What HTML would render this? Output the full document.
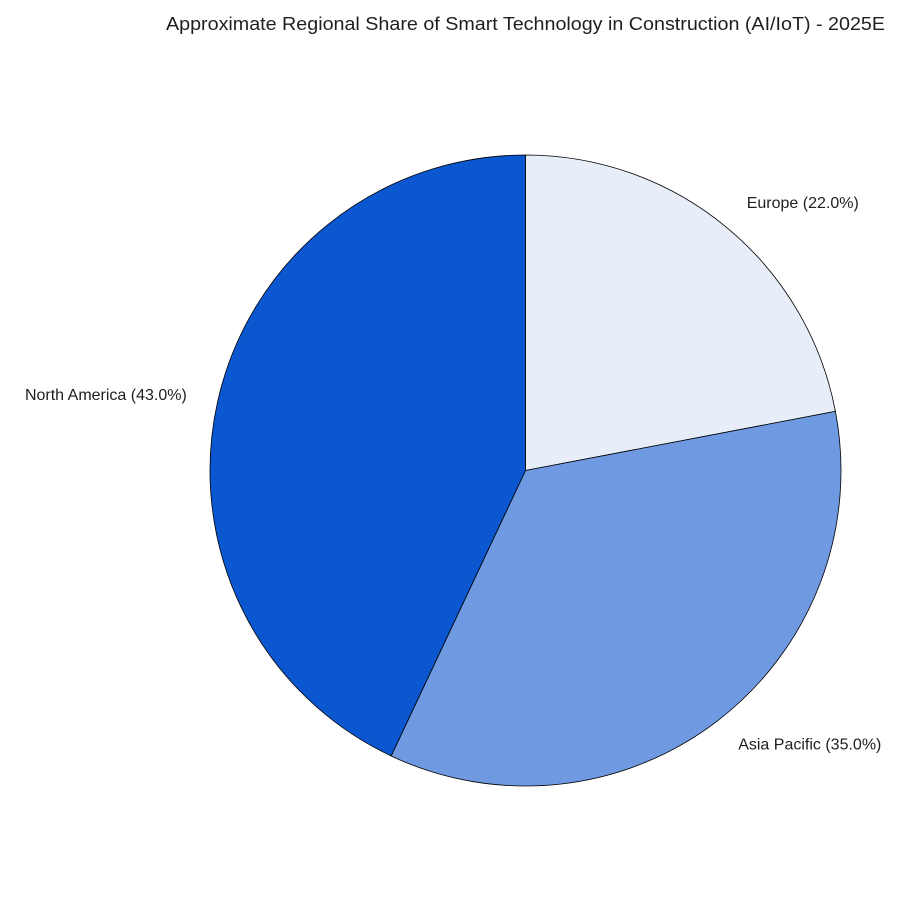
<!DOCTYPE html>
<html><head><meta charset="utf-8"><style>
html,body{margin:0;padding:0;background:#fff;}
svg text{font-family:"Liberation Sans",sans-serif;fill:#1f1f1f;}
</style></head><body>
<svg id="chart" width="900" height="900" viewBox="0 0 900 900" xmlns="http://www.w3.org/2000/svg">
<text x="525.5" y="30" text-anchor="middle" font-size="18" textLength="719" lengthAdjust="spacingAndGlyphs">Approximate Regional Share of Smart Technology in Construction (AI/IoT) - 2025E</text>
<g id="slices"></g>
<g id="labels"></g>
</svg>
<script>
const categories = ["Europe", "Asia Pacific", "North America"];
const values = [22.0, 35.0, 43.0];
const colors = ["#e8eef9", "#6f9ae2", "#0b57d0"];
const cx = 525.5, cy = 470.5, r = 315.5;
const total = values.reduce((a,b)=>a+b,0);
const ns = "http://www.w3.org/2000/svg";
const gS = document.getElementById('slices'), gL = document.getElementById('labels');
function pt(angDeg, rad){ const a = angDeg*Math.PI/180; return [cx + rad*Math.sin(a), cy - rad*Math.cos(a)]; }
let start = 0;
values.forEach((v,i)=>{
  const sweep = v/total*360, end = start+sweep;
  const [x1,y1] = pt(start,r), [x2,y2] = pt(end,r);
  const p = document.createElementNS(ns,'path');
  p.setAttribute('d',`M${cx},${cy} L${x1},${y1} A${r},${r} 0 ${sweep>180?1:0} 1 ${x2},${y2} Z`);
  p.setAttribute('fill',colors[i]); p.setAttribute('stroke','#000'); p.setAttribute('stroke-width','0.8');
  
  
  gS.appendChild(p);
  const mid = start + sweep/2;
  const [lx,ly] = pt(mid, r*1.1);
  const t = document.createElementNS(ns,'text');
  t.setAttribute('x',lx); t.setAttribute('y',ly+5); t.setAttribute('font-size','16');
  t.setAttribute('text-anchor', Math.sin(mid*Math.PI/180) >= 0 ? 'start' : 'end');
  t.textContent = `${categories[i]} (${v.toFixed(1)}%)`;
  
  
  gL.appendChild(t);
  start = end;
});
</script>
</body></html>
